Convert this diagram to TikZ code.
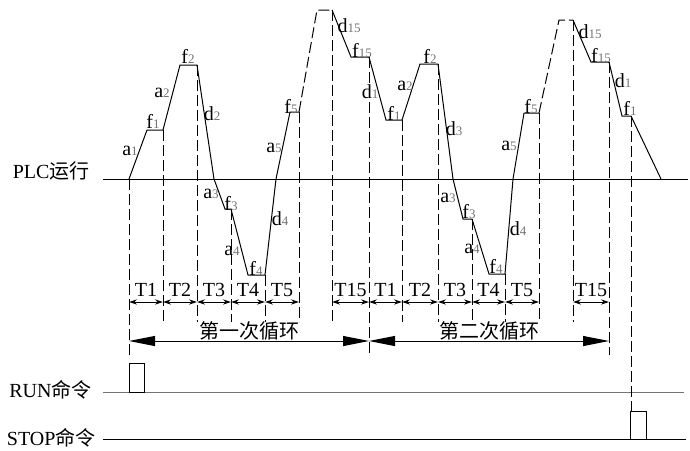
\documentclass[tikz,border=0pt]{standalone}
\usepackage{fontspec}
\setmainfont{Liberation Serif}
\newfontfamily\cjk{Noto Sans CJK SC}
\usepackage{tikz}
\usetikzlibrary{arrows.meta}
\newcommand{\ix}[1]{{\fontsize{6.5}{7}\selectfont\color{black!55}#1}}

\begin{document}
\begin{tikzpicture}[
    x=0.5pt, y=-0.5pt,
    line width=0.5pt,
    font=\fontsize{10}{12}\selectfont,
    guide/.style={dash pattern=on 5.5pt off 2pt},
    wave/.style={line join=miter},
    lbl/.style={anchor=base, inner sep=0pt},
    tlbl/.style={anchor=base, inner sep=0pt, yshift=3pt},
    cyclbl/.style={anchor=base, inner sep=0pt, yshift=1.5pt},
    tarrow/.style={{Stealth[length=4pt,width=2.6pt]}-{Stealth[length=4pt,width=2.6pt]}},
    cycarrow/.style={{Triangle[length=13pt,width=5pt]}-{Triangle[length=13pt,width=5pt]}}
]
\useasboundingbox (0,0) rectangle (690,450);

% Signale
\node (plc) [anchor=base east, inner sep=0pt] at (90,178) {PLC{\cjk 运行}};
\node (run) [anchor=base east, inner sep=0pt] at (92,397) {RUN{\cjk 命令}};
\node (stop) [anchor=base east, inner sep=0pt] at (96,445) {STOP{\cjk 命令}};
\draw (103,179) -- (688,179);
\draw[black!55] (103,392) -- (684,392);
\draw (103,439) -- (686,439);
\draw (129,392) rectangle (144,363);
\draw (630,439) rectangle (646,411);

% Zeitmarken
\coordinate (t0) at (129,302);
\coordinate (t1) at (163,302);
\coordinate (t2) at (197,302);
\coordinate (t3) at (231,302);
\coordinate (t4) at (265,302);
\coordinate (t5) at (299,302);
\coordinate (t6) at (332,302);
\coordinate (t7) at (369,302);
\coordinate (t8) at (402,302);
\coordinate (t9) at (438,302);
\coordinate (t10) at (472,302);
\coordinate (t11) at (505,302);
\coordinate (t12) at (539,302);
\coordinate (t13) at (573,302);
\coordinate (t14) at (609,302);
\coordinate (cy) at (0,341);

\foreach \x/\ya/\yb in {129/179/355, 163/130/322, 197/65/322, 231/209/322, 265/275/322,
    299/112/322, 332/10/322, 369/57/355, 402/120/322, 438/64/322, 472/219/322,
    505/274/322, 539/113/322, 573/20/322, 609/62/355, 631/116/411}
    \draw[guide] (\x,\ya) -- (\x,\yb);

% Kurve
\draw[wave] (129,179) -- (147,130) -- (163,130) -- (180,65) -- (197,65) -- (214,179) -- (225,209) -- (231,209)
    -- (248,275) -- (265,275) -- (276,179) -- (290,112) -- (299,112);
\draw[wave, guide] (299,112) -- (317,10) -- (332,10);
\draw[wave] (332,10) -- (351,57) -- (369,57) -- (386,120) -- (402,120) -- (420,64) -- (438,64) -- (453,179)
    -- (463,219) -- (472,219) -- (489,274) -- (505,274) -- (513,179) -- (524,113) -- (539,113);
\draw[wave, guide] (539,113) -- (559,20) -- (573,20);
\draw[wave] (573,20) -- (591,62) -- (609,62) -- (622,116) -- (631,116) -- (661,179);

% Beschriftung
\node (a1) [lbl] at (130,155) {a\ix{1}};
\node (f1) [lbl] at (153,128) {f\ix{1}};
\node (a2) [lbl] at (162,97) {a\ix{2}};
\node (f2) [lbl] at (188,63) {f\ix{2}};
\node (d2) [lbl] at (212,120) {d\ix{2}};
\node (a3) [lbl] at (211,198) {a\ix{3}};
\node (f3) [lbl] at (231,210) {f\ix{3}};
\node (a4) [lbl] at (232,255) {a\ix{4}};
\node (f4) [lbl] at (256,275) {f\ix{4}};
\node (d4) [lbl] at (280,225) {d\ix{4}};
\node (a5) [lbl] at (274,152) {a\ix{5}};
\node (f5) [lbl] at (291,113) {f\ix{5}};
\node (d15) [lbl] at (349,32) {d\ix{15}};
\node (f15) [lbl] at (362,57) {f\ix{15}};
\node (d1) [lbl] at (370,98) {d\ix{1}};
\node (f1b) [lbl] at (394,120) {f\ix{1}};
\node (a2b) [lbl] at (405,90) {a\ix{2}};
\node (f2b) [lbl] at (430,63) {f\ix{2}};
\node (d3) [lbl] at (454,135) {d\ix{3}};
\node (a3b) [lbl] at (448,202) {a\ix{3}};
\node (f3b) [lbl] at (469,218) {f\ix{3}};
\node (a4b) [lbl] at (472,253) {a\ix{4}};
\node (f4b) [lbl] at (496,273) {f\ix{4}};
\node (d4b) [lbl] at (518,235) {d\ix{4}};
\node (a5b) [lbl] at (509,150) {a\ix{5}};
\node (f5b) [lbl] at (531,113) {f\ix{5}};
\node (d15b) [lbl] at (590,38) {d\ix{15}};
\node (f15b) [lbl] at (601,62) {f\ix{15}};
\node (d1b) [lbl] at (623,87) {d\ix{1}};
\node (f1c) [lbl] at (630,115) {f\ix{1}};

% Abschnitte
\draw[tarrow] (t0) -- node[tlbl] {T1} (t1);
\draw[tarrow] (t1) -- node[tlbl] {T2} (t2);
\draw[tarrow] (t2) -- node[tlbl] {T3} (t3);
\draw[tarrow] (t3) -- node[tlbl] {T4} (t4);
\draw[tarrow] (t4) -- node[tlbl] {T5} (t5);
\draw[tarrow] (t6) -- node[tlbl] {T15} (t7);
\draw[tarrow] (t7) -- node[tlbl] {T1} (t8);
\draw[tarrow] (t8) -- node[tlbl] {T2} (t9);
\draw[tarrow] (t9) -- node[tlbl] {T3} (t10);
\draw[tarrow] (t10) -- node[tlbl] {T4} (t11);
\draw[tarrow] (t11) -- node[tlbl] {T5} (t12);
\draw[tarrow] (t13) -- node[tlbl] {T15} (t14);

\draw[cycarrow] (t0 |- cy) -- node[cyclbl] {\cjk 第一次循环} (t7 |- cy);
\draw[cycarrow] (t7 |- cy) -- node[cyclbl] {\cjk 第二次循环} (t14 |- cy);

\end{tikzpicture}
\end{document}
